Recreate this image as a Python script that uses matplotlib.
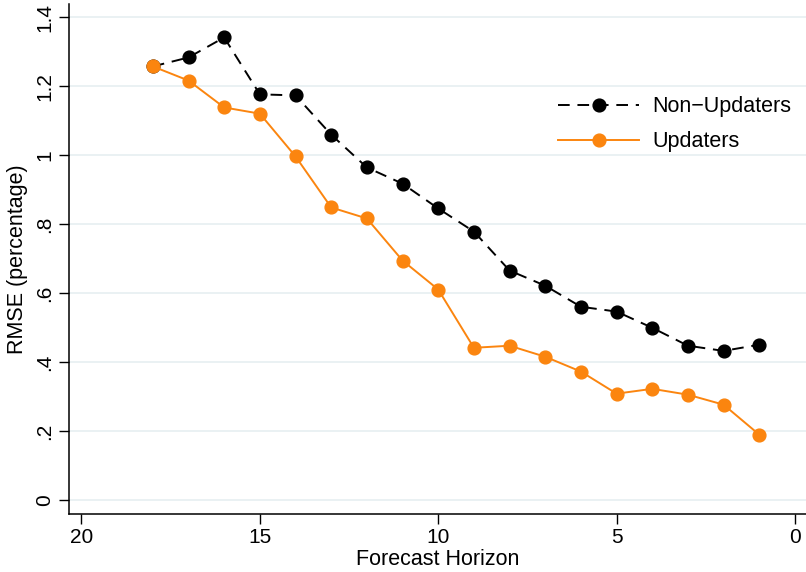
import matplotlib.pyplot as plt

# forecast horizon (months ahead) and RMSE for each group
horizon = [18, 17, 16, 15, 14, 13, 12, 11, 10, 9, 8, 7, 6, 5, 4, 3, 2, 1]
non_updaters = [1.257, 1.283, 1.341, 1.176, 1.173, 1.059, 0.964, 0.917, 0.845,
                0.778, 0.665, 0.621, 0.560, 0.546, 0.499, 0.447, 0.432, 0.450]
updaters = [1.257, 1.216, 1.138, 1.120, 0.996, 0.848, 0.816, 0.694, 0.610,
            0.441, 0.447, 0.415, 0.372, 0.308, 0.322, 0.305, 0.276, 0.189]
y_ticks = [0, 0.2, 0.4, 0.6, 0.8, 1.0, 1.2, 1.4]
y_labels = ["0", ".2", ".4", ".6", ".8", "1", "1.2", "1.4"]
x_ticks = [20, 15, 10, 5, 0]

plt.rcParams['font.family'] = ['Liberation Sans', 'DejaVu Sans']

fig = plt.figure(figsize=(8.06, 5.72), dpi=100)
ax = fig.add_axes([0.0856, 0.102, 0.914, 0.891])

orange = "#fb850f"
ax.plot(horizon, non_updaters, color="black", lw=1.4, dashes=(6, 4),
        marker="o", ms=9.2, label="Non\u2212Updaters", zorder=3)
ax.plot(horizon, updaters, color=orange, lw=1.4, marker="o", ms=9.2,
        label="Updaters", zorder=3)

ax.set_xlim(20.35, -0.3)
ax.set_ylim(-0.04, 1.438)
ax.set_xticks(x_ticks)
ax.set_yticks(y_ticks)
ax.set_yticklabels(y_labels, rotation=90, va="center")
ax.tick_params(labelsize=15, length=7, width=1, color="black")

# light horizontal grid like the Stata scheme
ax.grid(axis="y", color="#e8f0f2", lw=1.3)
ax.set_axisbelow(True)
for side in ["top", "right"]:
    ax.spines[side].set_visible(False)
for side in ["left", "bottom"]:
    ax.spines[side].set_linewidth(1.1)

ax.set_xlabel("Forecast Horizon", fontsize=15.5, labelpad=1)
ax.set_ylabel("RMSE (percentage)", fontsize=15.5, labelpad=5)

ax.legend(loc="upper left", bbox_to_anchor=(0.637, 0.857), frameon=False,
          fontsize=15.5, handlelength=3.8, handletextpad=0.6, labelspacing=0.65)

fig.savefig("out.png", dpi=100)
